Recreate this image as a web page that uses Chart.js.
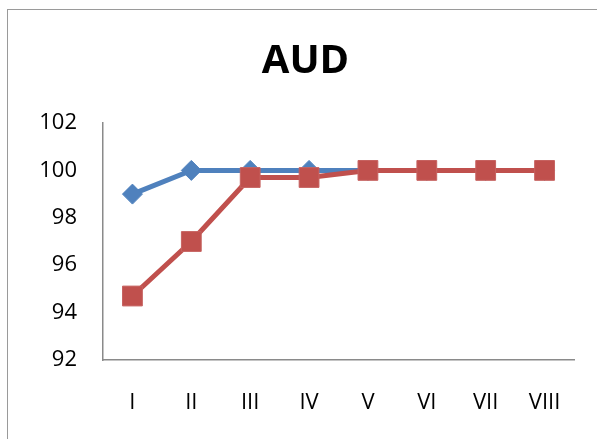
<!DOCTYPE html>
<html>
<head>
<meta charset="utf-8">
<script src="https://cdn.jsdelivr.net/npm/chart.js@4/dist/chart.umd.min.js"></script>
<style>
  html, body { margin: 0; padding: 0; background: #fff; }
  #wrap { position: relative; width: 597px; height: 439px; overflow: hidden; }
  #frame { position: absolute; left: 7px; top: 9px; width: 640px; height: 480px; border: 1.5px solid #9a9a9a; box-sizing: border-box; }
  canvas { position: absolute; left: 0; top: 0; }
</style>
</head>
<body>
<div id="wrap">
  <div id="frame"></div>
  <canvas id="c" width="597" height="439"></canvas>
</div>
<script>
// 데이터
const categories = ['I', 'II', 'III', 'IV', 'V', 'VI', 'VII', 'VIII'];
const blueValues = [99, 100, 100, 100, 100, 100, 100, 100];
const redValues = [94.7, 97, 99.7, 99.7, 100, 100, 100, 100];
const yTicks = [92, 94, 96, 98, 100, 102];

const FONT = "'Open Sans', 'Liberation Sans', sans-serif";
const axisColor = '#8a8a8a';

new Chart(document.getElementById('c'), {
    type: 'line',
    data: {
        labels: categories,
        datasets: [
            {
                label: 'Series 2',
                data: redValues,
                borderColor: '#c0504d',
                backgroundColor: '#c0504d',
                borderWidth: 5,
                pointStyle: 'rect',
                pointRadius: 14,
                pointBorderWidth: 1,
                pointBorderColor: '#c66260',
                tension: 0,
                order: 1,
            },
            {
                label: 'Series 1',
                data: blueValues,
                borderColor: '#4f81bd',
                backgroundColor: '#4f81bd',
                borderWidth: 5,
                pointStyle: 'rectRot',
                pointRadius: 10,
                pointBorderWidth: 1,
                tension: 0,
                order: 2,
            }
        ]
    },
    options: {
        responsive: false,
        animation: false,
        layout: { padding: { left: 37, right: 23, top: 0, bottom: 0 } },
        plugins: {
            legend: { display: false },
            tooltip: { enabled: false },
            title: {
                display: true,
                text: 'AUD',
                color: '#000',
                font: { family: FONT, size: 40, weight: 'bold', lineHeight: 1.2 },
                padding: { top: 38, bottom: 37 },
            },
        },
        scales: {
            x: {
                offset: true,
                grid: { display: false, drawTicks: false },
                border: { display: true, color: axisColor, width: 1.5 },
                ticks: { color: '#000', font: { family: FONT, size: 22 }, padding: 30, maxRotation: 0 },
                afterFit: (s) => { s.height = 79; },
            },
            y: {
                min: 92,
                max: 102,
                grid: { display: false, drawTicks: false },
                border: { display: true, color: axisColor, width: 1.5 },
                afterBuildTicks: (s) => { s.ticks = yTicks.map(v => ({ value: v })); },
                ticks: { color: '#000', font: { family: FONT, size: 22 }, padding: 26 },
                afterFit: (s) => { s.width = 66; },
            }
        }
    }
});
</script>
</body>
</html>
